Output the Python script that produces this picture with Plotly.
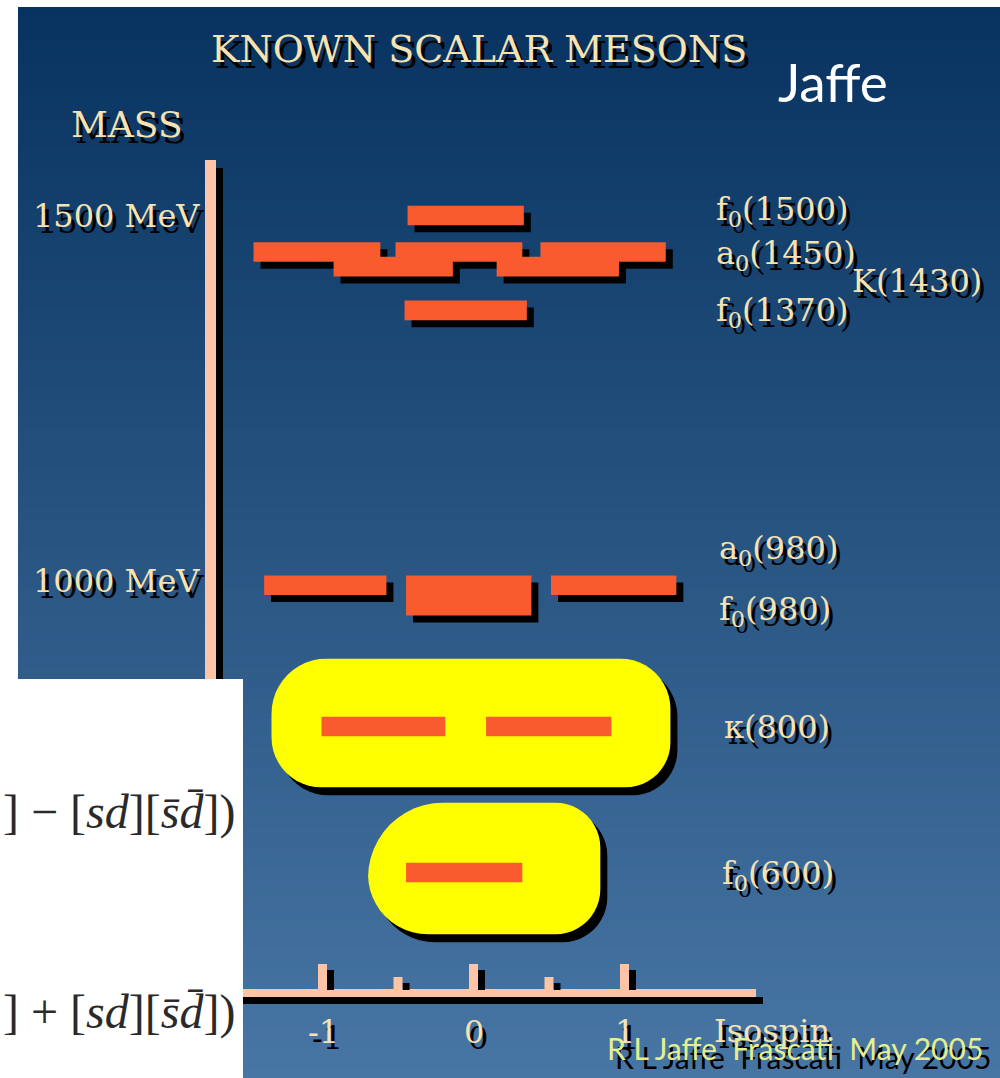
import math
import plotly.graph_objects as go

W, H = 1000, 1078

# ---------------- data ----------------
state_labels = ["f<sub>0</sub>(1500)", "a<sub>0</sub>(1450)", "K(1430)", "f<sub>0</sub>(1370)",
                "a<sub>0</sub>(980)", "f<sub>0</sub>(980)", "κ(800)", "f<sub>0</sub>(600)"]
state_mass = [1500, 1450, 1430, 1370, 980, 980, 800, 600]          # MeV
# I3 extent of every member of each multiplet
state_i3_lo = [[-0.44], [-1.46, -0.52, 0.44], [-0.93, 0.15], [-0.46],
               [-1.39, -0.45, 0.51], [-0.45], [-1.01, 0.08], [-0.45]]
state_i3_hi = [[0.33], [-0.62, 0.32, 1.27], [-0.14, 0.96], [0.35],
               [-0.58, 0.38, 1.34], [0.38], [-0.19, 0.91], [0.32]]
halo_states = [[6], [7]]                      # κ(800) and f0(600) are highlighted

mass_ticks = [1500, 1000]
mass_tick_text = ["1500 MeV", "1000 MeV"]
isospin_major = [-1, 0, 1]
isospin_minor = [-0.5, 0.5]
isospin_tick_text = ["-1", "0", "1"]

# ---------------- scales ----------------
X0_PX, PX_PER_I = 474.0, 151.0          # pixel of I3 = 0, pixels per unit isospin
Y1000_PX, PX_PER_MEV = 580.5, 0.73      # pixel of 1000 MeV, pixels per MeV
x_range = [(0 - X0_PX) / PX_PER_I, (W - X0_PX) / PX_PER_I]
y_range = [1000 - (H - Y1000_PX) / PX_PER_MEV, 1000 + Y1000_PX / PX_PER_MEV]


def i_px(v):
    return X0_PX + PX_PER_I * v


def m_px(v):
    return Y1000_PX - (v - 1000) * PX_PER_MEV


def px_i(p):
    return (p - X0_PX) / PX_PER_I


def px_m(p):
    return 1000 + (Y1000_PX - p) / PX_PER_MEV


def px(x):
    return x / W


def py(y):
    return 1 - y / H


# styles
BAR = "#F95B2E"
PINK = "#FFC3A5"
HALO = "#FFFF00"
CREAM = "#F6E3B4"
FOOT = "#E6EF8E"
BAND_HALF = 13.5                      # half thickness of a bar, MeV
band_side = [0, 0, 0, 0, 1, -1, 0, 0]  # a0/f0(980) sit just above / below their mass
SH_X, SH_Y = 7, 7                      # drop-shadow offset in pixels

shapes = []

# background gradient
top_c, bot_c = (8, 51, 96), (72, 118, 164)
y_start, n_band = 7, 107
step = (H - y_start) / n_band
for k in range(n_band):
    t = k / (n_band - 1)
    c = tuple(round(a + (b - a) * t) for a, b in zip(top_c, bot_c))
    shapes.append(dict(type="rect", xref="paper", yref="paper",
                       x0=px(18), x1=px(W), y0=py(y_start + k * step), y1=py(y_start + (k + 1) * step + 1),
                       line=dict(width=0), fillcolor="rgb(%d,%d,%d)" % c))

# mass axis (vertical) with shadow
shapes.append(dict(type="rect", xref="paper", yref="paper", x0=px(216), x1=px(223),
                   y0=py(168), y1=py(1003), line=dict(width=0), fillcolor="black"))
shapes.append(dict(type="rect", xref="paper", yref="paper", x0=px(205), x1=px(216),
                   y0=py(160), y1=py(997), line=dict(width=0), fillcolor=PINK))

# isospin axis (horizontal) with shadow
shapes.append(dict(type="rect", xref="paper", yref="paper", x0=px(212), x1=px(763),
                   y0=py(997), y1=py(1004), line=dict(width=0), fillcolor="black"))
shapes.append(dict(type="rect", xref="paper", yref="paper", x0=px(205), x1=px(756),
                   y0=py(989), y1=py(997), line=dict(width=0), fillcolor=PINK))
for ticks, top in ((isospin_major, 964), (isospin_minor, 977)):
    for v in ticks:
        shapes.append(dict(type="rect", xref="x", yref="paper", xsizemode="pixel", xanchor=v,
                           x0=4, x1=11, y0=py(top + 6), y1=py(990), line=dict(width=0), fillcolor="black"))
        shapes.append(dict(type="rect", xref="x", yref="paper", xsizemode="pixel", xanchor=v,
                           x0=-5, x1=4, y0=py(top), y1=py(990), line=dict(width=0), fillcolor=PINK))


def band(idx):
    m = state_mass[idx]
    s = band_side[idx]
    if s > 0:
        return m, m + 2 * BAND_HALF
    if s < 0:
        return m - 2 * BAND_HALF - 1, m
    return m - BAND_HALF, m + BAND_HALF


def halo_path(group, pad, radii, off=(0, 0)):
    los = [v for g in group for v in state_i3_lo[g]]
    his = [v for g in group for v in state_i3_hi[g]]
    mlo = min(band(g)[0] for g in group)
    mhi = max(band(g)[1] for g in group)
    L = i_px(min(los)) - pad[0] + off[0]
    R = i_px(max(his)) + pad[1] + off[0]
    T = m_px(mhi) - pad[2] + off[1]
    B = m_px(mlo) + pad[3] + off[1]
    r_tl, r_tr, r_br, r_bl = radii
    corners = [((L + r_tl, T + r_tl), r_tl, 180), ((R - r_tr, T + r_tr), r_tr, 270),
               ((R - r_br, B - r_br), r_br, 0), ((L + r_bl, B - r_bl), r_bl, 90)]
    pts = []
    for (cx, cy), r, a0 in corners:
        for k in range(13):
            a = math.radians(a0 + 90 * k / 12)
            pts.append((cx + r * math.cos(a), cy + r * math.sin(a)))
    d = "M " + " L ".join("%.4f,%.3f" % (px_i(x), px_m(y)) for x, y in pts) + " Z"
    return d


halo_pads = [(50, 59, 58, 51), (38, 78, 60, 52)]
halo_radii = [(55, 50, 45, 50), (75, 45, 45, 60)]
for grp, pad, rad in zip(halo_states, halo_pads, halo_radii):
    shapes.append(dict(type="path", xref="x", yref="y", path=halo_path(grp, pad, rad, (7, 8)),
                       fillcolor="black", line=dict(width=0)))
    shapes.append(dict(type="path", xref="x", yref="y", path=halo_path(grp, pad, rad),
                       fillcolor=HALO, line=dict(width=0)))

# meson bars: shadows first, then the bars themselves
dx_sh = SH_X / PX_PER_I
dm_sh = SH_Y / PX_PER_MEV
for idx in range(len(state_mass)):
    if any(idx in g for g in halo_states):
        continue
    m0, m1 = band(idx)
    for lo, hi in zip(state_i3_lo[idx], state_i3_hi[idx]):
        shapes.append(dict(type="rect", xref="x", yref="y", x0=lo + dx_sh, x1=hi + dx_sh,
                           y0=m0 - dm_sh, y1=m1 - dm_sh, line=dict(width=0), fillcolor="black"))
for idx in range(len(state_mass)):
    m0, m1 = band(idx)
    for lo, hi in zip(state_i3_lo[idx], state_i3_hi[idx]):
        shapes.append(dict(type="rect", xref="x", yref="y", x0=lo, x1=hi, y0=m0, y1=m1,
                           line=dict(width=0), fillcolor=BAR))

# white inset holding the quark-content formulas
shapes.append(dict(type="rect", xref="paper", yref="paper", x0=0, x1=px(243), y0=0, y1=py(679),
                   line=dict(width=0), fillcolor="white"))

annotations = []
SERIF = "DejaVu Serif"


def shadow_text(text, x, y, size, color=CREAM, family=SERIF, xanchor="center",
                xref="paper", yref="paper", yshift=0, sx=4, sy=6):
    for col, ox, oy in (("black", sx, -sy), (color, 0, 0)):
        annotations.append(dict(text=text, x=x, y=y, xref=xref, yref=yref, xanchor=xanchor,
                                yanchor="middle", showarrow=False, xshift=ox, yshift=yshift + oy,
                                font=dict(family=family, size=size, color=col)))


shadow_text("KNOWN SCALAR MESONS", px(479), py(49), 38)
shadow_text("MASS", px(69), py(125), 36, xanchor="left")
annotations.append(dict(text="Jaffe", x=px(776), y=py(81), xref="paper", yref="paper",
                        xanchor="left", yanchor="middle", showarrow=False,
                        font=dict(family="Lato", size=53, color="white")))

for m, t in zip(mass_ticks, mass_tick_text):
    shadow_text(t, px(202), m, 32, xanchor="right", yref="y")

label_x = [714, 714, 850, 714, 717, 717, 722, 720]
label_shift = [5, -3, -14, -2, 45, -16, 0, -2]
for t, m, lx, sh in zip(state_labels, state_mass, label_x, label_shift):
    shadow_text(t, px(lx), m, 32, xanchor="left", yref="y", yshift=sh)

for v, t in zip(isospin_major, isospin_tick_text):
    shadow_text(t, v, py(1032), 32, xref="x")
shadow_text("Isospin", px(712), py(1031), 32, xanchor="left")

shadow_text("R L Jaffe  Frascati  May 2005", px(985), py(1048), 30, color=FOOT,
            family="Lato", xanchor="right", sx=8, sy=9)

# tail ends of the a0 / f0 quark-content formulas visible in the inset
formula_minus = "] − [<i>sd</i>][<i>s̄d̄</i>])"
formula_plus = "] + [<i>sd</i>][<i>s̄d̄</i>])"
for t, yy in ((formula_minus, 812), (formula_plus, 1012)):
    annotations.append(dict(text=t, x=px(1), y=py(yy), xref="paper", yref="paper",
                            xanchor="left", yanchor="middle", showarrow=False,
                            font=dict(family="Liberation Serif", size=48, color="#2a2a2a")))

fig = go.Figure()
fig.update_layout(
    width=W, height=H, margin=dict(l=0, r=0, t=0, b=0),
    paper_bgcolor="white", plot_bgcolor="white", showlegend=False,
    xaxis=dict(range=x_range, visible=False, fixedrange=True),
    yaxis=dict(range=y_range, visible=False, fixedrange=True),
    shapes=shapes, annotations=annotations,
)
fig.write_html("out.html")
